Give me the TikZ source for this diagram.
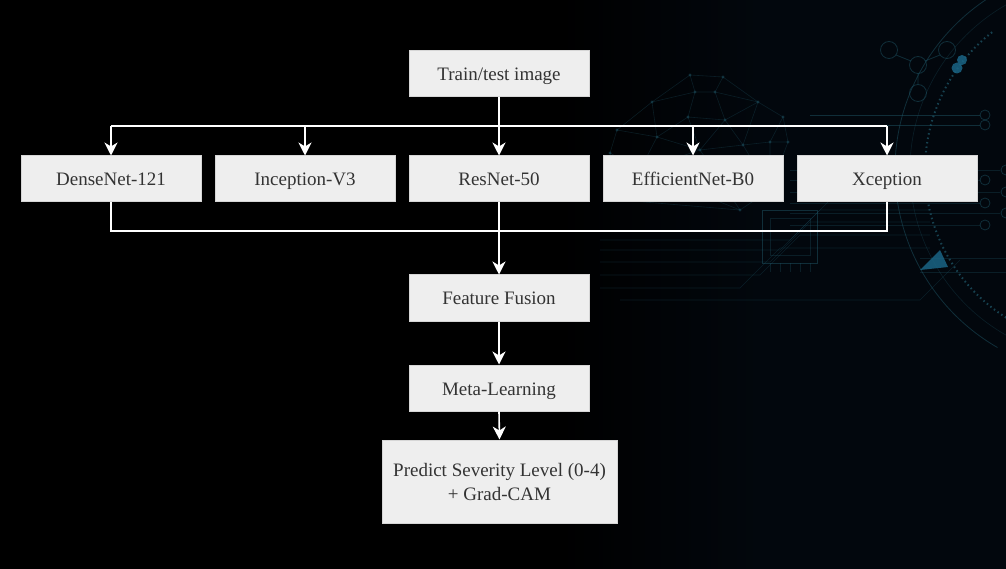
\documentclass[tikz,border=0pt]{standalone}
\usepackage{fontspec}
\setmainfont{Liberation Serif}
\usetikzlibrary{arrows.meta}
\definecolor{boxfill}{HTML}{EEEEEE}
\definecolor{boxline}{HTML}{D6D6D6}
\definecolor{txt}{HTML}{333333}
\definecolor{deco}{HTML}{1E5566}
\definecolor{decofill}{HTML}{1A6585}
\definecolor{bgright}{HTML}{02070D}
\begin{document}
\begin{tikzpicture}[x=1pt,y=-1pt,
  box/.style={draw=boxline,line width=1pt,fill=boxfill,text=txt,inner sep=0pt,
    minimum width=180pt,minimum height=46pt,font=\fontsize{19}{24}\selectfont},
  onebox/.style={box,text height=17pt,text depth=3pt},
  wire/.style={draw=white,line width=1.6pt},
  arr/.style={wire,-{Stealth[length=13pt,width=13pt,inset=4pt]}},
  dl/.style={draw=deco,line width=0.8pt,opacity=0.5},
  dlf/.style={draw=deco,line width=0.6pt,opacity=0.3}]
\useasboundingbox (0,0) rectangle (1006,569);
% background
\fill[black] (0,0) rectangle (1006,569);
\shade[left color=black,right color=bgright] (560,0) rectangle (760,569);
\fill[bgright] (760,0) rectangle (1006,569);
% ---- decoration ----
\begin{scope}
\clip (0,0) rectangle (1006,569);
% globe mesh
\coordinate (g1) at (690,75); \coordinate (g2) at (723,77); \coordinate (g3) at (652,102);
\coordinate (g4) at (695,92); \coordinate (g5) at (715,92); \coordinate (g6) at (758,102);
\coordinate (g7) at (688,117); \coordinate (g8) at (725,120); \coordinate (g9) at (783,117);
\coordinate (g10) at (617,130); \coordinate (g11) at (657,137); \coordinate (g12) at (770,142);
\coordinate (g13) at (743,145); \coordinate (g14) at (788,142); \coordinate (g15) at (610,153);
\coordinate (g16) at (640,170); \coordinate (g17) at (700,150); \coordinate (g18) at (740,210);
\coordinate (g19) at (770,190); \coordinate (g20) at (620,200);
\draw[dlf] (g1)--(g2)--(g6)--(g9)--(g14)--(g19)--(g18)--(g20)--(g15)--(g10)--(g3)--(g1);
\draw[dlf] (g1)--(g4)--(g5)--(g2) (g4)--(g7)--(g8)--(g5) (g3)--(g4) (g5)--(g6)--(g8)
  (g7)--(g11)--(g3) (g10)--(g11)--(g16)--(g15) (g7)--(g17)--(g8)--(g13)--(g6)
  (g13)--(g12)--(g9) (g12)--(g14) (g17)--(g13) (g11)--(g17)--(g16) (g16)--(g20)
  (g17)--(g18) (g13)--(g19)--(g12) (g16)--(g18);
\foreach \p in {g1,g2,g3,g4,g5,g6,g7,g8,g9,g10,g11,g12,g13,g14,g15,g16,g17,g18,g19,g20}
  \fill[deco,opacity=0.5] (\p) circle (1.6pt);
% arcs
\draw[dl] (1100,170) ++(120:205) arc[start angle=120,end angle=242,radius=205];
\draw[dlf] (1100,170) ++(116:190) arc[start angle=116,end angle=250,radius=190];
\draw[deco,line width=2pt,dash pattern=on 1.5pt off 3pt,opacity=0.75]
  (1100,170) ++(118:175) arc[start angle=118,end angle=232,radius=175];
\fill[decofill,opacity=0.85] (957,68) circle (5.5pt) (962,60) circle (5pt);
% molecule
\draw[dl] (889,50) circle (8.5pt) (947,50) circle (8.5pt) (918,65) circle (8.5pt) (918,93) circle (8.5pt);
\draw[dl] (896,55)--(911,61) (940,55)--(925,61) (918,73.5)--(918,84.5);
% circuit lines with end circles
\foreach \y in {115,125} {\draw[dl] (810,\y)--(980,\y); \draw[dl] (985,\y) circle (5pt);}
\foreach \y/\e in {170/1000,180/980,192/1000,203/980,213/1000,225/980} {\draw[dlf] (790,\y)--(\e,\y);}
\foreach \y in {180,203,225} {\draw[dl] (985,\y) circle (5pt);}
\foreach \y in {170,192,213} {\draw[dl] (1006,\y) circle (5pt);}
\foreach \y/\x in {240/790,250/780,262/770,275/760,288/740} {\draw[dlf] (600,\y)--(\x,\y)--(\x+40,\y-40)--(930,\y-40);}
\draw[dlf] (620,300)--(920,300)--(960,260);
\draw[dlf] (920,258)--(1006,258) (920,272)--(1006,272);
% chip
\draw[dl] (762,210) rectangle (817,263);
\draw[dlf] (770,218) rectangle (810,255);
\foreach \x in {770,780,790,800,810} \draw[dlf] (\x,263)--(\x,272);
% triangle
\fill[decofill,opacity=0.85] (920,270)--(940,250)--(948,267)--cycle;
\end{scope}
% ---- diagram ----
\node[onebox] (tr) at (499,74) {Train/test image};
\node[onebox] (dn) at (111,179) {DenseNet-121};
\node[onebox] (inc) at (305,179) {Inception-V3};
\node[onebox] (res) at (499,179) {ResNet-50};
\node[onebox] (eff) at (693,179) {EfficientNet-B0};
\node[onebox] (xc) at (887,179) {Xception};
\node[onebox] (ff) at (499,298) {Feature Fusion};
\node[onebox] (ml) at (499,388) {Meta-Learning};
\node[box,align=center,minimum width=235pt,minimum height=83pt] (pr) at (499.5,481.5) {Predict Severity Level (0-4)\\+ Grad-CAM};
\coordinate (tl) at (dn.north |- 0,126);
\coordinate (trr) at (xc.north |- 0,126);
\coordinate (bl) at (dn.south |- 0,231);
\coordinate (brr) at (xc.south |- 0,231);
\draw[wire] (tl) -- (trr);
\draw[arr] (tr.south) -- (res.north);
\foreach \n in {dn,inc,eff,xc} \draw[arr] (\n.north |- tl) -- (\n.north);
\draw[wire] (dn.south) -- (bl) -- (brr) -- (xc.south);
\draw[arr] (res.south) -- (ff.north);
\draw[arr] (ff.south) -- (ml.north);
\draw[arr] (ml.south) -- (pr.north);
\end{tikzpicture}
\end{document}
